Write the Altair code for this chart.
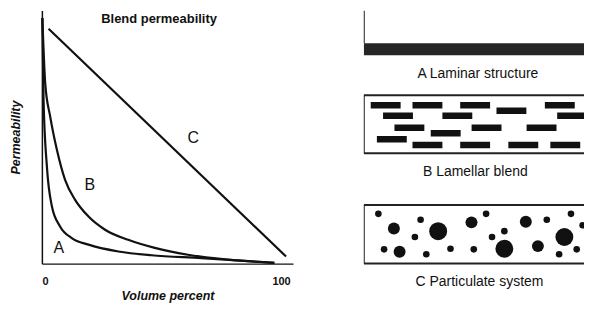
import altair as alt
import pandas as pd

# ---------------- Left: blend permeability curves ----------------
a_x = [0.2, 0.7, 2.1, 4.2, 7.6, 12.5, 19.5, 32.0, 45.8, 66.7, 97.2]
a_y = [97.0, 64.6, 38.3, 22.6, 14.7, 10.1, 7.5, 4.8, 3.3, 2.2, 0.3]
b_x = [0.2, 1.4, 3.5, 6.3, 9.7, 13.9, 19.5, 26.4, 36.1, 47.2, 61.1, 77.8, 97.2]
b_y = [97.0, 71.1, 58.0, 44.9, 33.1, 25.2, 18.6, 13.4, 9.4, 6.2, 3.5, 1.6, 0.3]
c_x = [2.8, 102.1]
c_y = [92.8, 2.8]

curve_names = ["A", "B", "C"]
curve_label_x = [7.1, 20.0, 63.3]
curve_label_y = [6.3, 31.1, 49.6]

x_ticks = [0, 100]
plot_title = "Blend permeability"
plot_title_x = [49.0]
plot_title_y = [96.8]

# ---------------- Right: structure diagrams ----------------
box_names = ["A", "B", "C"]
box_top = [99.3, 70.4, 32.9]
box_bottom = [88.1, 50.6, 13.0]
laminar_layer = [84.0, 88.1]

captions = ["A Laminar structure", "B Lamellar blend", "C Particulate system"]
caption_x = [50.0, 48.9, 50.7]
caption_y = [77.6, 44.2, 6.8]

dash_x = [9.6, 27.9, 48.8, 85.9, 64.7, 15.0, 41.0, 91.3, 20.0, 53.8, 77.9,
          35.9, 12.3, 27.9, 48.8, 69.9, 88.3]
dash_y = [67.0, 67.0, 67.0, 67.0, 65.1, 63.4, 63.4, 63.4, 59.3, 59.3, 59.3,
          57.4, 55.4, 53.4, 53.4, 53.4, 53.4]

particle_x = [6.4, 24.9, 53.6, 80.2, 90.8, 95.9, 22.4, 61.6, 56.2, 8.9, 27.4,
              38.0, 48.2, 85.6, 93.3,
              13.2, 47.2, 71.0, 15.7, 76.3,
              32.6, 61.6, 87.9]
particle_y = [29.9, 27.9, 29.9, 27.9, 29.9, 26.0, 22.0, 24.0, 22.0, 17.8, 16.1,
              18.0, 17.8, 16.1, 17.8,
              24.9, 27.0, 27.2, 17.0, 18.9,
              24.0, 18.0, 22.0]
particle_class = ["small"] * 15 + ["medium"] * 5 + ["large"] * 3

FONT = "Liberation Sans"
INK = "#111111"

# ---------- left chart ----------
rows = []
for name, xs, ys in (("A", a_x, a_y), ("B", b_x, b_y), ("C", c_x, c_y)):
    for i, (xv, yv) in enumerate(zip(xs, ys)):
        rows.append({"curve": name, "x": xv, "y": yv, "order": i})
curves_df = pd.DataFrame(rows)
labels_df = pd.DataFrame({"text": curve_names, "x": curve_label_x, "y": curve_label_y})
title_df = pd.DataFrame({"text": [plot_title], "x": plot_title_x, "y": plot_title_y})

xscale = alt.Scale(domain=[0, 105], nice=False, zero=False)
yscale = alt.Scale(domain=[0, 100], nice=False, zero=False)

lines = alt.Chart(curves_df).mark_line(
    color=INK, strokeWidth=2.2, interpolate="monotone"
).encode(
    x=alt.X("x:Q", scale=xscale, axis=alt.Axis(
        values=x_ticks, ticks=False, grid=False, labelPadding=12,
        labelFontSize=11, labelFontWeight="bold", labelColor=INK, labelFont=FONT,
        title="Volume percent", titleFont=FONT, titleFontSize=12.5,
        titleFontStyle="italic", titleFontWeight="bold", titleColor=INK,
        titlePadding=3, domainColor=INK, domainWidth=1.5)),
    y=alt.Y("y:Q", scale=yscale, axis=alt.Axis(
        ticks=False, labels=False, grid=False,
        title="Permeability", titleFont=FONT, titleFontSize=12.5,
        titleFontStyle="italic", titleFontWeight="bold", titleColor=INK,
        titlePadding=19, domainColor=INK, domainWidth=1.5)),
    detail="curve:N",
    order="order:Q",
)

curve_labels = alt.Chart(labels_df).mark_text(
    font=FONT, fontSize=16, color=INK
).encode(x=alt.X("x:Q", scale=xscale), y=alt.Y("y:Q", scale=yscale), text="text:N")

title_text = alt.Chart(title_df).mark_text(
    font=FONT, fontSize=13, fontWeight="bold", color=INK
).encode(x=alt.X("x:Q", scale=xscale), y=alt.Y("y:Q", scale=yscale), text="text:N")

left = alt.layer(lines, curve_labels, title_text).properties(width=252, height=254)

# ---------- right chart ----------
# the frames are cut at the page edge
rx = alt.Scale(domain=[0, 96.5], nice=False, zero=False)
ry = alt.Scale(domain=[1.7, 99.3], nice=False, zero=False)

edge_rows = []
for name, top, bot in zip(box_names, box_top, box_bottom):
    edge_rows.append({"x": 0, "x2": 0, "y": bot, "y2": top})
    if name != "A":
        edge_rows.append({"x": 0, "x2": 100, "y": top, "y2": top})
        edge_rows.append({"x": 0, "x2": 100, "y": bot, "y2": bot})
edges_df = pd.DataFrame(edge_rows)

edges = alt.Chart(edges_df).mark_rule(color="#222222", strokeWidth=2, clip=True).encode(
    x=alt.X("x:Q", scale=rx, axis=None), x2="x2:Q",
    y=alt.Y("y:Q", scale=ry, axis=None), y2="y2:Q",
)

band_df = pd.DataFrame({"x": [0], "x2": [100], "y": [laminar_layer[0]], "y2": [laminar_layer[1]]})
band = alt.Chart(band_df).mark_rect(color="#262626", clip=True).encode(
    x=alt.X("x:Q", scale=rx, axis=None), x2="x2:Q",
    y=alt.Y("y:Q", scale=ry, axis=None), y2="y2:Q",
)

dash_df = pd.DataFrame({"x": dash_x, "y": dash_y})
dashes = alt.Chart(dash_df).mark_tick(
    orient="horizontal", size=30, thickness=6.5, color=INK, opacity=1, clip=True
).encode(x=alt.X("x:Q", scale=rx, axis=None), y=alt.Y("y:Q", scale=ry, axis=None))

part_df = pd.DataFrame({"x": particle_x, "y": particle_y, "cls": particle_class})
circle_area = {"small": 44, "medium": 144, "large": 324}
particle_layers = [
    alt.Chart(part_df).transform_filter(alt.datum.cls == cls).mark_circle(
        color=INK, opacity=1, size=area, clip=True
    ).encode(x=alt.X("x:Q", scale=rx, axis=None), y=alt.Y("y:Q", scale=ry, axis=None))
    for cls, area in circle_area.items()
]

cap_df = pd.DataFrame({"text": captions, "x": caption_x, "y": caption_y})
caps = alt.Chart(cap_df).mark_text(font=FONT, fontSize=14, color=INK).encode(
    x=alt.X("x:Q", scale=rx, axis=None), y=alt.Y("y:Q", scale=ry, axis=None), text="text:N"
)

right = alt.layer(band, edges, dashes, *particle_layers, caps).properties(width=221, height=287)

chart = alt.hconcat(left, right, spacing=71).properties(
    padding={"left": 2, "top": 2, "right": 0, "bottom": 0}
).configure_view(stroke=None)

chart.save("out.html", embed_options={"renderer": "svg", "actions": False})
